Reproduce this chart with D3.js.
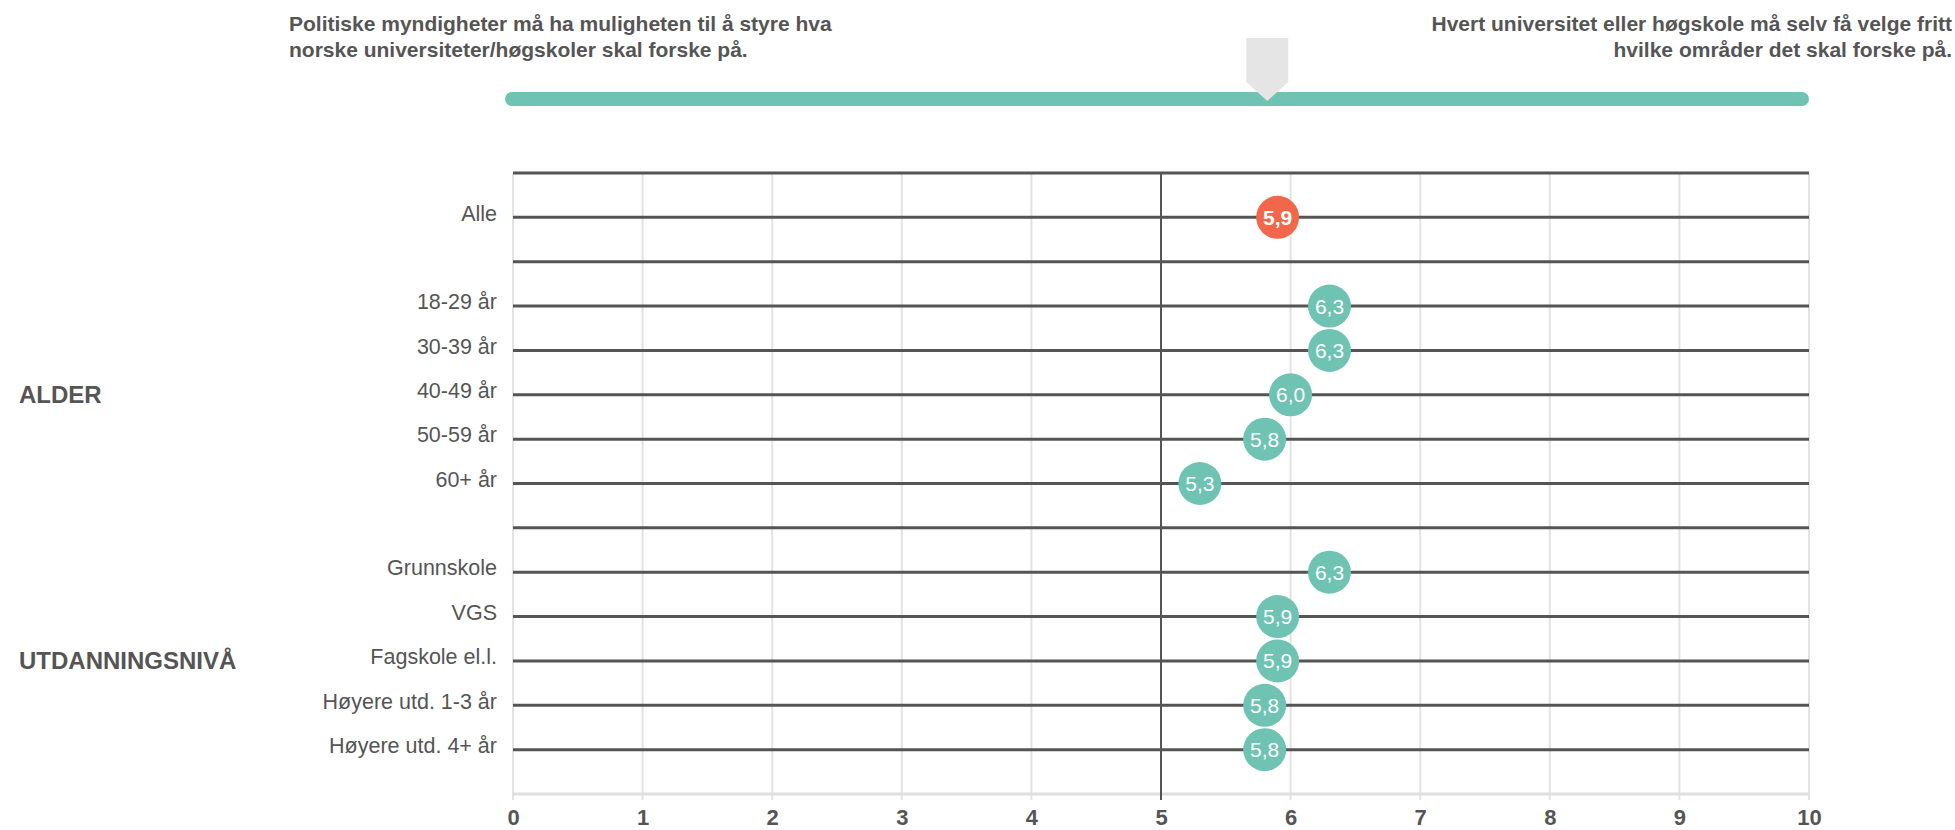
<!DOCTYPE html>
<html>
<head>
<meta charset="utf-8">
<script src="https://cdn.jsdelivr.net/npm/d3@7"></script>
<style>
  body { margin: 0; background: #fff; }
  text { font-family: "Liberation Sans", Arial, sans-serif; }
</style>
</head>
<body>
<div id="chart"></div>
<script>
// 1: DATA
const titleLeft = ["Politiske myndigheter må ha muligheten til å styre hva", "norske universiteter/høgskoler skal forske på."];
const titleRight = ["Hvert universitet eller høgskole må selv få velge fritt", "hvilke områder det skal forske på."];
const categories = ["Alle", "18-29 år", "30-39 år", "40-49 år", "50-59 år", "60+ år",
    "Grunnskole", "VGS", "Fagskole el.l.", "Høyere utd. 1-3 år", "Høyere utd. 4+ år"];
const values = [5.9, 6.3, 6.3, 6.0, 5.8, 5.3, 6.3, 5.9, 5.9, 5.8, 5.8];
const groupNames = ["ALDER", "UTDANNINGSNIVÅ"];
const groupMembers = [
    ["18-29 år", "30-39 år", "40-49 år", "50-59 år", "60+ år"],
    ["Grunnskole", "VGS", "Fagskole el.l.", "Høyere utd. 1-3 år", "Høyere utd. 4+ år"]
];
const markerValue = 5.82;
const tickValues = [0, 1, 2, 3, 4, 5, 6, 7, 8, 9, 10];
const midValue = 5;

// row layout: top border, Alle, separator, groups with separator between, bottom
const rows = ["top", "Alle", "sep1", ...groupMembers[0], "sep2", ...groupMembers[1], "bottom"];

// 2: SIZES
const W = 1955, H = 830;
const plotLeft = 513, plotRight = 1809;
const plotTop = 173, plotBottom = 794;

const svg = d3.select("#chart").append("svg")
    .attr("width", W)
    .attr("height", H);

// 3: SCALES
const x = d3.scaleLinear().domain([0, 10]).range([plotLeft, plotRight]);
const y = d3.scalePoint().domain(rows).range([plotTop, plotBottom]);

const teal = "#6fc3b3";
const orange = "#f2674a";
const textGrey = "#555";

// 4: HEADER
svg.append("g").selectAll("text")
    .data(titleLeft).join("text")
    .attr("x", 289)
    .attr("y", (d, i) => 31 + i * 26)
    .attr("font-size", 21)
    .attr("font-weight", "bold")
    .attr("fill", textGrey)
    .text(d => d);

svg.append("g").selectAll("text")
    .data(titleRight).join("text")
    .attr("x", 1952)
    .attr("y", (d, i) => 31 + i * 26)
    .attr("text-anchor", "end")
    .attr("font-size", 21)
    .attr("font-weight", "bold")
    .attr("fill", textGrey)
    .text(d => d);

// scale bar + marker
svg.append("rect")
    .attr("x", x(0) - 8)
    .attr("y", 92)
    .attr("width", x(10) - x(0) + 8)
    .attr("height", 14)
    .attr("rx", 7)
    .attr("fill", teal);

const mx = x(markerValue);
svg.append("path")
    .attr("d", `M${mx - 21},38 H${mx + 21} V82 L${mx},101 L${mx - 21},82 Z`)
    .attr("fill", "#e5e5e5");

// 5: GRID
svg.append("g").selectAll("line")
    .data(tickValues).join("line")
    .attr("x1", d => x(d)).attr("x2", d => x(d))
    .attr("y1", plotTop).attr("y2", plotBottom + 6)
    .attr("stroke", "#e3e3e3")
    .attr("stroke-width", 2);

svg.append("g").selectAll("line")
    .data(rows.filter(r => r !== "bottom")).join("line")
    .attr("x1", x(0)).attr("x2", x(10))
    .attr("y1", d => y(d)).attr("y2", d => y(d))
    .attr("stroke", textGrey)
    .attr("stroke-width", 3);

svg.append("line")
    .attr("x1", x(0)).attr("x2", x(10))
    .attr("y1", y("bottom")).attr("y2", y("bottom"))
    .attr("stroke", "#dedede")
    .attr("stroke-width", 3);

svg.append("line")
    .attr("x1", x(midValue)).attr("x2", x(midValue))
    .attr("y1", plotTop).attr("y2", plotBottom + 6)
    .attr("stroke", textGrey)
    .attr("stroke-width", 2);

// 6: AXIS
const axis = svg.append("g")
    .attr("transform", `translate(0,${plotBottom})`)
    .call(d3.axisBottom(x).tickValues(tickValues).tickFormat(d3.format("d")).tickSize(0).tickPadding(15));
axis.select(".domain").remove();
axis.selectAll("text")
    .attr("font-size", 22)
    .attr("font-weight", "bold")
    .attr("fill", textGrey)
    .style("font-family", "Liberation Sans, Arial, sans-serif");

// 7: LABELS
svg.append("g").selectAll("text")
    .data(categories).join("text")
    .attr("x", 497)
    .attr("y", d => y(d))
    .attr("dy", "0.15em")
    .attr("text-anchor", "end")
    .attr("font-size", 21.5)
    .attr("fill", textGrey)
    .text(d => d);

svg.append("g").selectAll("text")
    .data(groupNames).join("text")
    .attr("x", 19)
    .attr("y", (d, i) => y(groupMembers[i][2]))
    .attr("dy", "0.35em")
    .attr("font-size", 24)
    .attr("font-weight", "bold")
    .attr("fill", textGrey)
    .text(d => d);

// 8: DOTS
const fmt = v => d3.format(".1f")(v).replace(".", ",");
const dots = svg.append("g").selectAll("g")
    .data(categories.map((c, i) => ({ cat: c, val: values[i] })))
    .join("g")
    .attr("transform", d => `translate(${x(d.val)},${y(d.cat)})`);

dots.append("circle")
    .attr("r", 21.5)
    .attr("fill", d => d.cat === "Alle" ? orange : teal);

dots.append("text")
    .attr("text-anchor", "middle")
    .attr("dy", "0.36em")
    .attr("font-size", 21)
    .attr("font-weight", d => d.cat === "Alle" ? "bold" : "normal")
    .attr("fill", "#fff")
    .text(d => fmt(d.val));
</script>
</body>
</html>
